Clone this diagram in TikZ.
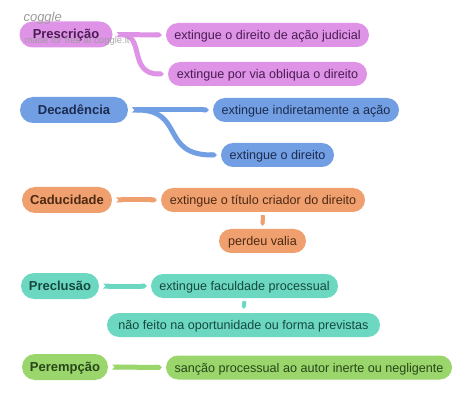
\documentclass[tikz,border=0pt]{standalone}
\usepackage{fontspec}
\setmainfont{Liberation Sans}
\usetikzlibrary{arrows.meta}
\definecolor{pinkf}{HTML}{DE93E6}
\definecolor{pinkt}{HTML}{4A1C52}
\definecolor{bluef}{HTML}{729EE3}
\definecolor{bluet}{HTML}{1C2C4E}
\definecolor{orangef}{HTML}{EFA06E}
\definecolor{oranget}{HTML}{4E2A14}
\definecolor{tealf}{HTML}{6CD8C1}
\definecolor{tealt}{HTML}{16493D}
\definecolor{greenf}{HTML}{9AD66B}
\definecolor{greent}{HTML}{28461A}
\definecolor{wmgray}{HTML}{9A9A9A}
\tikzset{
  box/.style={rounded corners=12pt, minimum height=24pt, inner xsep=0pt, inner ysep=0pt,
    text height=9.5pt, text depth=0.5pt, font=\fontsize{12.6}{14}\selectfont},
  root/.style={box, font=\fontsize{13}{14}\selectfont\bfseries, minimum height=26pt, rounded corners=13pt},
  branch/.style={line width=5pt, {Triangle Cap[reversed]}-{Triangle Cap}},
  vbranch/.style={line width=4pt, -{Triangle Cap}},
}
\begin{document}
\begin{tikzpicture}[x=1pt,y=-1pt]
\useasboundingbox (0,0) rectangle (474,406);
% Prescricao
\node[root, fill=pinkf, text=pinkt, minimum width=93pt] (p) at (66,34.5) {Prescrição};
\node[box, fill=pinkf, text=pinkt, minimum width=203pt] (p1) at (267.5,35) {extingue o direito de ação judicial};
\node[box, fill=pinkf, text=pinkt, minimum width=199pt] (p2) at (267.5,74) {extingue por via obliqua o direito};
\draw[branch, pinkf] ([xshift=4pt]p.east) -- ([xshift=-4pt]p1.west);
\draw[branch, pinkf] ([xshift=4pt]p.east) .. controls (145,35) and (128,74) .. ([xshift=-4pt]p2.west);
% Decadencia
\node[root, fill=bluef, text=bluet, minimum width=108pt] (d) at (74,110) {Decadência};
\node[box, fill=bluef, text=bluet, minimum width=186pt] (d1) at (306,110) {extingue indiretamente a ação};
\node[box, fill=bluef, text=bluet, minimum width=113pt] (d2) at (277.5,155) {extingue o direito};
\draw[branch, bluef] ([xshift=4pt]d.east) -- ([xshift=-4pt]d1.west);
\draw[branch, bluef] ([xshift=4pt]d.east) .. controls (185,110) and (160,155) .. ([xshift=-4pt]d2.west);
% Caducidade
\node[root, fill=orangef, text=oranget, minimum width=90pt] (c) at (67,200) {Caducidade};
\node[box, fill=orangef, text=oranget, minimum width=204pt] (c1) at (263,200) {extingue o título criador do direito};
\node[box, fill=orangef, text=oranget, minimum width=87pt] (c2) at (262.5,241) {perdeu valia};
\draw[branch, orangef] ([xshift=4pt]c.east) -- ([xshift=-4pt]c1.west);
\draw[vbranch, orangef] ([yshift=-3pt]c1.south) -- ([yshift=3pt]c2.north);
% Preclusao
\node[root, fill=tealf, text=tealt, minimum width=78pt] (r) at (60,286) {Preclusão};
\node[box, fill=tealf, text=tealt, minimum width=187pt] (r1) at (244.5,286) {extingue faculdade processual};
\node[box, fill=tealf, text=tealt, minimum width=273pt] (r2) at (243.5,325) {não feito na oportunidade ou forma previstas};
\draw[branch, tealf] ([xshift=4pt]r.east) -- ([xshift=-4pt]r1.west);
\draw[vbranch, tealf] ([yshift=-3pt]r1.south) -- ([yshift=4pt]r2.north);
% Perempcao
\node[root, fill=greenf, text=greent, minimum width=86pt] (e) at (65,367) {Perempção};
\node[box, fill=greenf, text=greent, minimum width=286pt] (e1) at (309,367.5) {sanção processual ao autor inerte ou negligente};
\draw[branch, greenf] ([xshift=4pt]e.east) -- ([xshift=-4pt]e1.west);
% watermark
\node[anchor=west, text=wmgray, font=\fontsize{13}{14}\itshape\rmfamily] (wm1) at (20,18) {coggle};
\node[anchor=west, text=wmgray, opacity=0.85, font=\fontsize{9.5}{11}\selectfont] (wm2) at (21,41) {made for free at coggle.it};
\end{tikzpicture}
\end{document}
